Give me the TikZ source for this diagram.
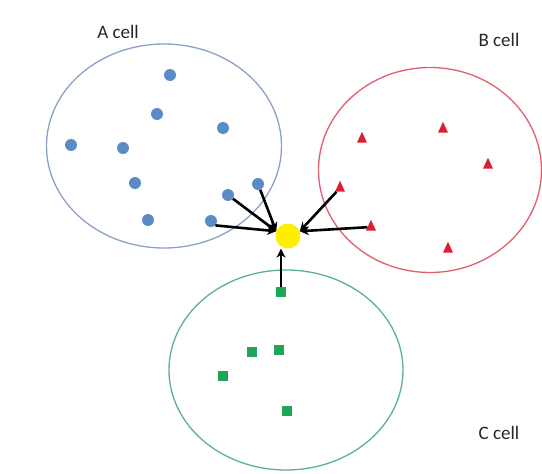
\documentclass[tikz,border=0pt]{standalone}
\usepackage{fontspec}
\setmainfont{Carlito}
\usetikzlibrary{shapes.geometric,arrows.meta}
\definecolor{dotblue}{HTML}{5B8BC6}
\definecolor{lineblue}{HTML}{8AA2C8}
\definecolor{trired}{HTML}{DC1E32}
\definecolor{linered}{HTML}{E2606E}
\definecolor{sqgreen}{HTML}{1EA55A}
\definecolor{linegreen}{HTML}{5DB38C}
\definecolor{sunyellow}{HTML}{FFEE00}
\definecolor{labelgray}{HTML}{262626}
\begin{document}
\begin{tikzpicture}[x=1pt,y=-1pt,
  cellshape/.style={ellipse, draw, line width=1.3pt, inner sep=0pt},
  adot/.style={circle, fill=dotblue, minimum size=12pt, inner sep=0pt},
  btri/.style={regular polygon, regular polygon sides=3, fill=trired, minimum size=11.5pt, inner sep=0pt, yscale=1.25},
  csq/.style={rectangle, fill=sqgreen, minimum size=10pt, inner sep=0pt},
  link/.style={draw=black, line width=2.6pt, -{Stealth[length=9pt,width=9pt]}},
  lbl/.style={text=labelgray, font=\fontsize{19}{22}\selectfont, inner sep=0pt}]
\useasboundingbox[fill=white] (0,0) rectangle (542,474);
% cells
\node[cellshape, draw=lineblue, minimum width=235pt, minimum height=204pt] (A) at (164,146) {};
\node[cellshape, draw=linered, minimum width=223pt, minimum height=205pt] (B) at (430,170) {};
\node[cellshape, draw=linegreen, minimum width=234pt, minimum height=200pt] (C) at (286,370) {};
% labels
\node[lbl] (la) at (118,32) {A cell};
\node[lbl] (lb) at (499,40) {B cell};
\node[lbl] (lc) at (499,433) {C cell};
% A markers
\node[adot] (a1) at (170,75) {};
\node[adot] (a2) at (157,114) {};
\node[adot] (a3) at (223,128) {};
\node[adot] (a4) at (71,145) {};
\node[adot] (a5) at (123,148) {};
\node[adot] (a6) at (135,183) {};
\node[adot] (a7) at (258,184) {};
\node[adot] (a8) at (228,195) {};
\node[adot] (a9) at (148,220) {};
\node[adot] (a10) at (211,221) {};
% B markers
\node[btri] (b1) at (362,139) {};
\node[btri] (b2) at (443,129) {};
\node[btri] (b3) at (488,165) {};
\node[btri] (b4) at (340,188) {};
\node[btri] (b5) at (371,227) {};
\node[btri] (b6) at (448,249) {};
% C markers
\node[csq] (c1) at (281,292) {};
\node[csq] (c2) at (252,352) {};
\node[csq] (c3) at (279,350) {};
\node[csq] (c4) at (223,376) {};
\node[csq] (c5) at (287,411) {};
% target
\node[circle, fill=sunyellow, minimum size=25pt, inner sep=0pt] (Y) at (288,236) {};
% connectors
\draw[link] (a10.south east) -- (Y.158);
\draw[link] (a8) -- (Y.158);
\draw[link] (a7) -- (Y.158);
\draw[link] (b4) -- (Y.22);
\draw[link] (b5) -- (Y.22);
\draw[link] (c1.north) -- (c1 |- Y.south);
\end{tikzpicture}
\end{document}
